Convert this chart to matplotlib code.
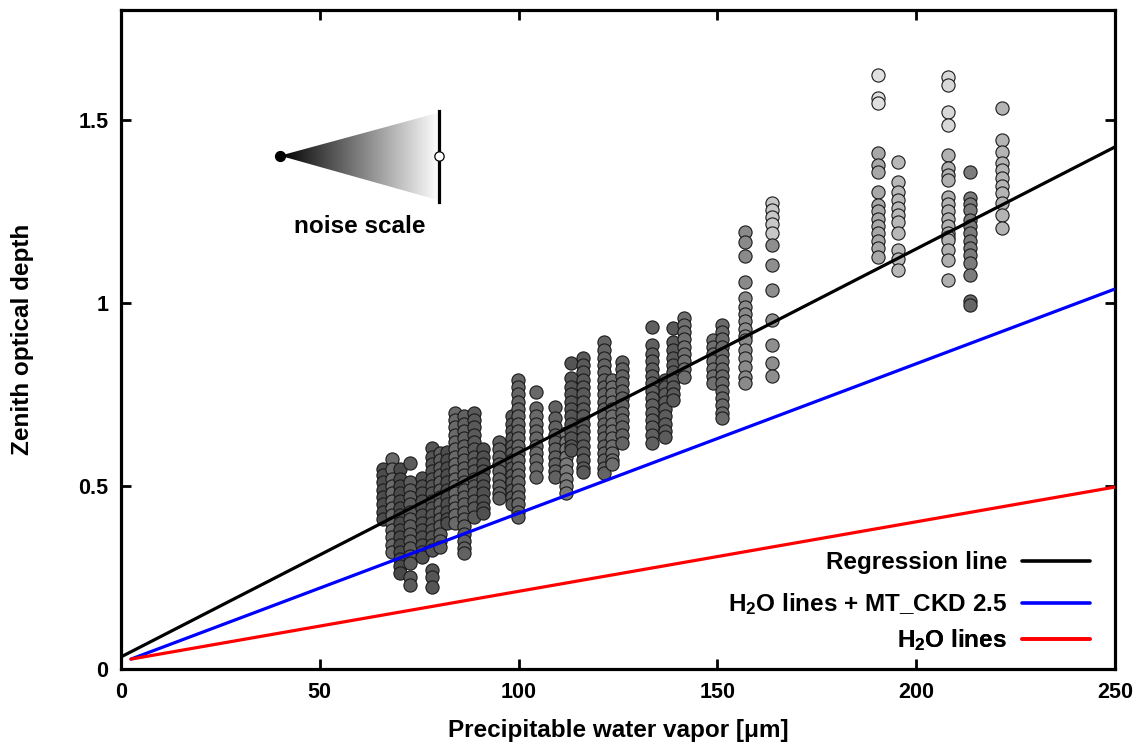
import matplotlib
matplotlib.use("Agg")
import matplotlib.pyplot as plt
import numpy as np
from matplotlib.patches import Polygon

plt.rcParams['font.family'] = ['Liberation Sans', 'DejaVu Sans']
plt.rcParams['font.weight'] = 'bold'
plt.rcParams['mathtext.fontset'] = 'custom'
plt.rcParams['mathtext.rm'] = 'Liberation Sans:bold'
plt.rcParams['mathtext.it'] = 'Liberation Sans:bold'
plt.rcParams['mathtext.bf'] = 'Liberation Sans:bold'

# ---------------- data ----------------
COL_X = [65.9, 68.2, 70.2, 72.7, 75.7, 78.2, 80.2, 82.0, 84.0, 86.3, 88.8, 91.0,
         95.1, 98.3, 99.8, 104.4, 109.2, 111.9, 113.2, 116.2, 121.5, 123.5, 126.0,
         133.6, 136.8, 138.8, 141.6, 148.9, 151.2, 156.9, 163.7, 163.7, 190.4, 190.4,
         195.4, 208.0, 208.0, 213.5, 213.5, 221.6]
COL_GRAY = ['#4d4d4d', '#6a6a6a', '#4a4a4a', '#5c5c5c', '#505050', '#555555', '#5e5e5e',
            '#4e4e4e', '#6a6a6a', '#626262', '#5a5a5a', '#505050', '#606060', '#5a5a5a',
            '#666666', '#696969', '#626262', '#7a7a7a', '#555555', '#5a5a5a', '#646464',
            '#6e6e6e', '#646464', '#606060', '#5c5c5c', '#5a5a5a', '#707070', '#707070',
            '#6a6a6a', '#8a8a8a', '#c8c8c8', '#8e8e8e', '#e0e0e0', '#a8a8a8', '#b8b8b8',
            '#d8d8d8', '#b0b0b0', '#7c7c7c', '#666666', '#b4b4b4']
COL_Y = [
    [0.545, 0.53, 0.51, 0.49, 0.47, 0.45, 0.43, 0.41],
    [0.574, 0.545, 0.52, 0.50, 0.48, 0.46, 0.44, 0.42, 0.40, 0.38, 0.36, 0.34, 0.32],
    [0.545, 0.52, 0.50, 0.48, 0.46, 0.44, 0.42, 0.40, 0.38, 0.36, 0.34, 0.32, 0.30, 0.28, 0.262],
    [0.563, 0.51, 0.49, 0.47, 0.45, 0.43, 0.41, 0.39, 0.37, 0.35, 0.33, 0.31, 0.29, 0.25, 0.23],
    [0.522, 0.50, 0.48, 0.46, 0.44, 0.42, 0.40, 0.38, 0.36, 0.34, 0.32, 0.306],
    [0.604, 0.58, 0.56, 0.54, 0.52, 0.50, 0.48, 0.46, 0.44, 0.42, 0.40, 0.38, 0.36, 0.34,
     0.325, 0.27, 0.25, 0.224],
    [0.59, 0.57, 0.55, 0.53, 0.51, 0.49, 0.47, 0.45, 0.43, 0.41, 0.39, 0.37, 0.35, 0.333],
    [0.593, 0.57, 0.55, 0.53, 0.51, 0.49, 0.47, 0.45, 0.43, 0.41, 0.40],
    [0.70, 0.68, 0.66, 0.64, 0.62, 0.60, 0.58, 0.56, 0.54, 0.52, 0.50, 0.48, 0.46, 0.44, 0.42, 0.40],
    [0.69, 0.67, 0.65, 0.63, 0.61, 0.59, 0.57, 0.55, 0.53, 0.51, 0.49, 0.47, 0.45, 0.43, 0.41,
     0.39, 0.37, 0.35, 0.33, 0.317],
    [0.70, 0.68, 0.66, 0.64, 0.62, 0.60, 0.58, 0.56, 0.54, 0.52, 0.50, 0.48, 0.46, 0.44, 0.415],
    [0.60, 0.58, 0.56, 0.54, 0.52, 0.50, 0.48, 0.46, 0.44, 0.426],
    [0.62, 0.60, 0.58, 0.56, 0.54, 0.52, 0.50, 0.48, 0.467],
    [0.69, 0.67, 0.65, 0.63, 0.61, 0.59, 0.57, 0.55, 0.53, 0.51, 0.49, 0.47, 0.45],
    [0.79, 0.77, 0.75, 0.73, 0.71, 0.69, 0.67, 0.65, 0.63, 0.61, 0.59, 0.57, 0.55, 0.53, 0.51,
     0.49, 0.47, 0.45, 0.43, 0.415],
    [0.757, 0.713, 0.69, 0.67, 0.65, 0.63, 0.61, 0.59, 0.57, 0.55, 0.525],
    [0.716, 0.686, 0.66, 0.64, 0.62, 0.60, 0.58, 0.56, 0.54, 0.525],
    [0.645, 0.62, 0.60, 0.58, 0.56, 0.54, 0.52, 0.50, 0.481],
    [0.836, 0.795, 0.77, 0.75, 0.73, 0.71, 0.69, 0.67, 0.65, 0.63, 0.61, 0.598],
    [0.85, 0.83, 0.81, 0.79, 0.77, 0.75, 0.73, 0.71, 0.69, 0.67, 0.65, 0.63, 0.61, 0.59, 0.57,
     0.55, 0.538],
    [0.893, 0.87, 0.85, 0.83, 0.81, 0.79, 0.77, 0.75, 0.73, 0.71, 0.69, 0.67, 0.65, 0.63, 0.61,
     0.59, 0.57, 0.55, 0.536],
    [0.79, 0.77, 0.75, 0.73, 0.71, 0.69, 0.67, 0.65, 0.63, 0.61, 0.59, 0.57, 0.56],
    [0.839, 0.82, 0.80, 0.78, 0.76, 0.74, 0.72, 0.70, 0.68, 0.66, 0.64, 0.617],
    [0.934, 0.885, 0.86, 0.84, 0.82, 0.80, 0.78, 0.76, 0.74, 0.72, 0.70, 0.68, 0.66, 0.64, 0.617],
    [0.79, 0.77, 0.75, 0.73, 0.71, 0.69, 0.67, 0.65, 0.634],
    [0.932, 0.893, 0.87, 0.85, 0.83, 0.81, 0.79, 0.77, 0.75, 0.735],
    [0.959, 0.94, 0.92, 0.90, 0.88, 0.86, 0.84, 0.82, 0.798],
    [0.899, 0.88, 0.86, 0.84, 0.82, 0.80, 0.781],
    [0.94, 0.92, 0.90, 0.88, 0.86, 0.84, 0.82, 0.80, 0.78, 0.76, 0.74, 0.72, 0.70, 0.686],
    [1.194, 1.167, 1.128, 1.057, 1.014, 0.989, 0.97, 0.95, 0.93, 0.91, 0.899, 0.872, 0.85,
     0.825, 0.798, 0.781],
    [1.273, 1.255, 1.235, 1.215, 1.191],
    [1.158, 1.104, 1.036, 0.954, 0.885, 0.836, 0.80],
    [1.623, 1.56, 1.546],
    [1.41, 1.377, 1.358, 1.303, 1.268, 1.25, 1.23, 1.21, 1.19, 1.17, 1.15, 1.126],
    [1.385, 1.331, 1.303, 1.28, 1.26, 1.24, 1.22, 1.19, 1.145, 1.12, 1.09],
    [1.617, 1.596, 1.522, 1.486],
    [1.404, 1.369, 1.35, 1.336, 1.29, 1.27, 1.25, 1.23, 1.21, 1.19, 1.18, 1.172, 1.145, 1.117, 1.063],
    [1.358, 1.287, 1.27, 1.254, 1.227, 1.21, 1.19, 1.17, 1.15, 1.13, 1.109, 1.077],
    [1.005, 0.995],
    [1.533, 1.445, 1.413, 1.383, 1.363, 1.342, 1.32, 1.30, 1.273, 1.24, 1.205],
]

LINE_X = [0.0, 250.0]
REG_Y = [0.033, 1.426]
MODEL_X = [2.5, 250.0]
CKD_Y = [0.027, 1.038]
H2O_Y = [0.027, 0.497]

LABELS = ["Regression line", "H$_2$O lines + MT_CKD 2.5", "H$_2$O lines"]
COLORS = ["black", "#0000ff", "#ff0000"]

# noise scale wedge
WEDGE_X = [40.0, 80.0]
WEDGE_Y = [1.402, 1.28, 1.52]

XTICKS = [0, 50, 100, 150, 200, 250]
YTICKS = [0, 0.5, 1, 1.5]
YTICKLABELS = ["0", "0.5", "1", "1.5"]

# ---------------- figure ----------------
fig = plt.figure(figsize=(11.46, 7.45), dpi=100)
ax = fig.add_axes([121 / 1146, 1 - 669 / 745, (1115 - 121) / 1146, (669 - 10) / 745])
ax.set_xlim(0, 250)
ax.set_ylim(0, 1.8)

# scatter
for x, g, ys in zip(COL_X, COL_GRAY, COL_Y):
    ax.scatter([x] * len(ys), ys, s=90, c=g, edgecolors='#1a1a1a', linewidths=0.8, zorder=2)

# lines
l1, = ax.plot(LINE_X, REG_Y, color=COLORS[0], lw=2.3, zorder=3, solid_capstyle='round')
l2, = ax.plot(MODEL_X, CKD_Y, color=COLORS[1], lw=2.3, zorder=3, solid_capstyle='round')
l3, = ax.plot(MODEL_X, H2O_Y, color=COLORS[2], lw=2.3, zorder=3, solid_capstyle='round')

# noise scale wedge
grad = np.linspace(0, 1, 256).reshape(1, -1)
im = ax.imshow(grad, cmap='gray', extent=[WEDGE_X[0], WEDGE_X[1], WEDGE_Y[1], WEDGE_Y[2]],
               aspect='auto', zorder=1, vmin=0, vmax=1)
wedge = Polygon([(WEDGE_X[0], WEDGE_Y[0]), (WEDGE_X[1], WEDGE_Y[2]), (WEDGE_X[1], WEDGE_Y[1])],
                closed=True, transform=ax.transData, facecolor='none', edgecolor='none')
ax.add_patch(wedge)
im.set_clip_path(wedge)
ax.plot([WEDGE_X[1], WEDGE_X[1]], [WEDGE_Y[1] - 0.005, WEDGE_Y[2] + 0.005], color='black', lw=2.3,
        zorder=4)
ax.scatter([WEDGE_X[0]], [WEDGE_Y[0]], s=50, c='black', edgecolors='black', zorder=5)
ax.scatter([WEDGE_X[1]], [WEDGE_Y[0]], s=45, c='white', edgecolors='black', linewidths=0.9, zorder=5)
ax.text(sum(WEDGE_X) / 2, 1.21, "noise scale", ha='center', va='center', fontsize=17.5,
        fontweight='bold')

# axes styling
ax.set_xticks(XTICKS)
ax.set_yticks(YTICKS)
ax.set_yticklabels(YTICKLABELS)
for sp in ax.spines.values():
    sp.set_linewidth(2.3)
ax.tick_params(direction='in', length=7, width=2, top=True, right=True, labelsize=15.5, pad=9)
for lab in ax.get_xticklabels() + ax.get_yticklabels():
    lab.set_fontweight('bold')
ax.set_xlabel("Precipitable water vapor [μm]", fontsize=17.5, fontweight='bold', labelpad=12)
ax.set_ylabel("Zenith optical depth", fontsize=17.5, fontweight='bold', labelpad=32)

# legend: one entry per legend so each text is right-aligned against its sample line
LEG_Y = [(669 - 563) / 659, (669 - 604) / 659, (669 - 640) / 659]
LEG_XR = (1090 - 121) / 994
for h, lab, yc in zip([l1, l2, l3], LABELS, LEG_Y):
    lg = ax.legend([h], [lab], loc='center right', bbox_to_anchor=(LEG_XR, yc),
                   frameon=False, markerfirst=False, handlelength=2.8, handletextpad=0.62,
                   borderpad=0, borderaxespad=0, prop={'weight': 'bold', 'size': 17.5})
    for ln in lg.get_lines():
        ln.set_linewidth(2.6)
    ax.add_artist(lg)

fig.savefig("out.png", dpi=100)
